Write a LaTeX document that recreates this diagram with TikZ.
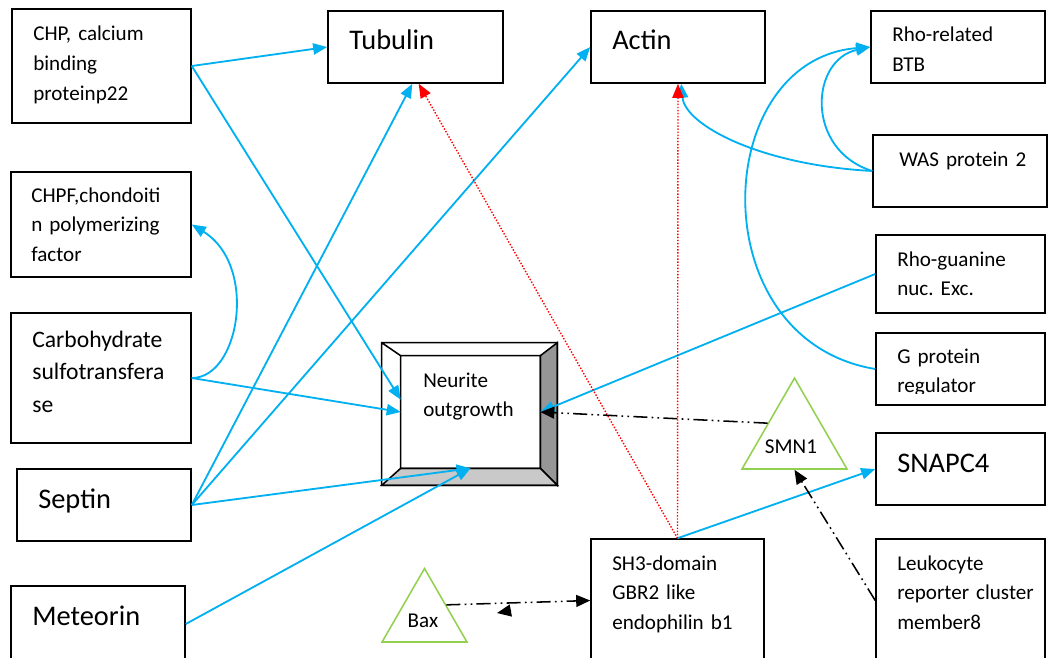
\documentclass[tikz,border=0pt]{standalone}
\usepackage{fontspec}
\setmainfont{Carlito}
\usetikzlibrary{arrows.meta,fit,shapes.geometric}
\definecolor{lblue}{HTML}{00B0F0}
\definecolor{lgreen}{HTML}{92D050}
\newcommand\smtxt{\fontsize{15}{21.3}\selectfont}
\newcommand\mdtxt{\fontsize{16.8}{23.4}\selectfont}
\newcommand\bgtxt{\fontsize{20.2}{24}\selectfont}
\frenchspacing
\begin{document}
\begin{tikzpicture}[x=0.025cm,y=-0.025cm,
	box/.style={draw,line width=1.1pt,inner sep=0pt},
	txt/.style={anchor=base west,inner sep=0pt,align=left,text width=4.2cm,font=\smtxt},
	bigt/.style={txt,font=\bgtxt},
	tlab/.style={anchor=base,inner sep=0pt,font=\smtxt},
	tri/.style={draw=lgreen,line width=1.1pt,regular polygon,regular polygon sides=3,inner sep=0pt},
	link/.style={lblue,line width=1.3pt,-{Triangle[length=10pt,width=8pt]}},
	dotl/.style={red,line width=1pt,dash pattern=on 1pt off 1.2pt,-{Triangle[length=10pt,width=8pt]}},
	dd/.style={black,line width=1.1pt,dash pattern=on 10pt off 3pt on 1.2pt off 3pt on 1.2pt off 3pt,-{Triangle[length=10pt,width=8.5pt]}}]% neurite outgrowth network
	\useasboundingbox (0,0) rectangle (1049,657);
	\node[box,fit={(12,9) (191,123)}] (chp) {};
	\node[box,fit={(11,172) (191,277)}] (chpf) {};
	\node[box,fit={(11,313) (191,443)}] (carb) {};
	\node[box,fit={(17,469) (191,541)}] (sep) {};
	\node[box,fit={(11,586) (185,662)}] (met) {};
	\node[box,fit={(328,11) (503,83)}] (tub) {};
	\node[box,fit={(591,11) (765,83)}] (act) {};
	\node[box,fit={(871,11) (1045,83)}] (rho) {};
	\node[box,fit={(873,135) (1047,207)}] (was) {};
	\node[box,fit={(876,235) (1045,313)}] (rgn) {};
	\node[box,fit={(876,333) (1045,405)}] (gpr) {};
	\node[box,fit={(876,433) (1045,505)}] (snap) {};
	\node[box,fit={(876,539) (1045,662)}] (leuk) {};
	\node[box,fit={(591,539) (764,662)}] (sh3) {};
	\node[txt] (chpt) at (33,41) {CHP, calcium\\binding\\proteinp22};
	\node[txt] (chpft) at (31,202) {CHPF,chondoiti\\n polymerizing\\factor};
	\node[txt,font=\mdtxt] (carbt) at (32,347) {Carbohydrate\\sulfotransfera\\se};
	\node[bigt] (sept) at (38,508) {Septin};
	\node[bigt] (mett) at (32,625) {Meteorin};
	\node[bigt] (tubt) at (349,50) {Tubulin};
	\node[bigt] (actt) at (612,50) {Actin};
	\node[txt] (rhot) at (892,42) {Rho-related\\BTB};
	\node[txt] (wast) at (899,166) {WAS protein 2};
	\node[txt] (rgnt) at (897,266) {Rho-guanine\\nuc. Exc.};
	\begin{scope}
	\clip (870,330) rectangle (1050,393);
	\node[txt] (gprt) at (897,363) {G protein\\regulator};
	\end{scope}
	\node[bigt] (snapt) at (897,472) {SNAPC4};
	\node[txt] (leukt) at (897,570) {Leukocyte\\reporter cluster\\member8};
	\node[txt] (sh3t) at (612,570) {SH3-domain\\GBR2 like\\endophilin b1};
	% bevel box
	\node[fit={(401,356) (540,468)},inner sep=0pt] (nin) {};
	\node[fit={(382,343) (557,485)},inner sep=0pt] (nout) {};
	\filldraw[fill=black!41,line width=1.1pt] (nout.north east) -- (nout.south east) -- (nin.south east) -- (nin.north east) -- cycle;
	\filldraw[fill=black!21,line width=1.1pt] (nout.south west) -- (nout.south east) -- (nin.south east) -- (nin.south west) -- cycle;
	\draw[line width=1.1pt] (nout.north west) rectangle (nout.south east) (nin.north west) rectangle (nin.south east) (nout.north west) -- (nin.north west);
	\node[txt] (nint) at (423,387) {Neurite\\outgrowth};
	\node[tri,minimum size=3.03cm] (smn) at (794.5,438.7) {};
	\node[tlab] (smnt) at (791,453) {SMN1};
	\node[tri,minimum size=2.45cm] (bax) at (424.5,617.5) {};
	\node[tlab] (baxt) at (423,627) {Bax};
	\coordinate (baxa) at (511,610.5);
	\coordinate (baxb) at (497,613);
	% links
	\draw[link] (chp.east) -- (tub.west);
	\draw[link] (chp.east) -- (nin.170);
	\draw[link] (carb.east) .. controls (240,378) and (258,265) .. (chpf.east);
	\draw[link] (carb.east) -- (nin.west);
	\draw[link] (sep.east) -- (tub.265);
	\draw[link] (sep.east) -- (act.west);
	\draw[link] (sep.east) -- (nin.south);
	\draw[link] (met.east) -- (nin.south);
	\draw[link] (rgn.west) -- (nin.east);
	\draw[link] (was.west) .. controls (760,165) and (685,125) .. (act.275);
	\draw[link] (was.west) .. controls (805,150) and (810,60) .. (rho.west);
	\draw[link] (gpr.west) .. controls (700,340) and (710,60) .. (rho.west);
	\draw[link] (sh3.north) -- (snap.west);
	\draw[dotl] (sh3.north) -- (act.south);
	\draw[dotl] (sh3.north) -- (tub.275);
	\draw[dd] (smn.side 1) -- (nin.east);
	\draw[dd] (leuk.west) -- (smn.south);
	\draw[dd] (bax.side 3) -- (sh3.west);
	\draw[dd] (baxa) -- (baxb);
\end{tikzpicture}
\end{document}
